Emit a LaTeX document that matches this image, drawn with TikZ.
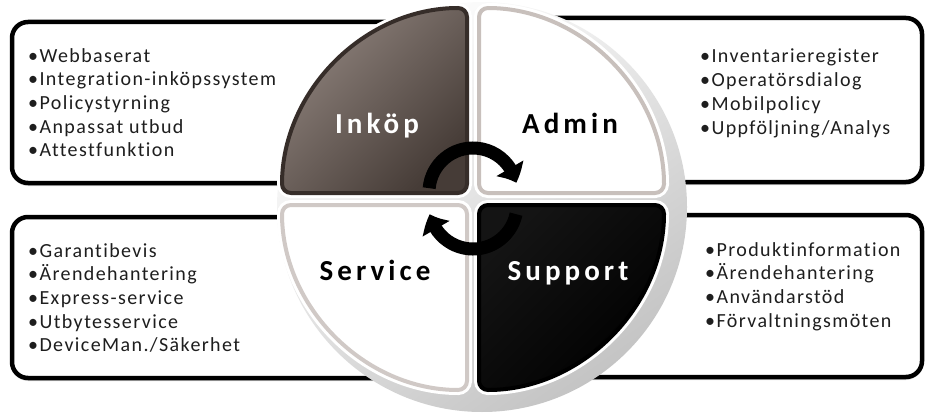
\documentclass[tikz,border=0pt]{standalone}
\usepackage{fontspec}
\setmainfont{Carlito}
\newfontfamily\listfont{Carlito}[LetterSpace=7, Ligatures={NoCommon}]
\newfontfamily\headfont{Carlito}[LetterSpace=14, Ligatures={NoCommon}]
\usetikzlibrary{arrows.meta}
\usetikzlibrary{bending}
\usetikzlibrary{shadows}
\usetikzlibrary{positioning}

\definecolor{inkLight}{HTML}{8E827C}
\definecolor{inkDark}{HTML}{463C37}
\definecolor{inkEdge}{HTML}{362D29}
\definecolor{ringGray}{HTML}{C4C4C4}
\definecolor{rimGray}{HTML}{C8C0BC}
\definecolor{listText}{HTML}{1E1E1E}

\begin{document}
\begin{tikzpicture}[
	x=1pt, y=1pt,
	box/.style = {draw=black, line width=4.5pt, fill=white, rounded corners=16pt,
		drop shadow={opacity=.3, shadow xshift=0pt, shadow yshift=-3pt}},
	quad/.style = {line width=4pt, rounded corners=9pt, preaction={draw=white, line width=10pt}},
	head/.style = {font=\headfont\bfseries\fontsize{29}{30}\selectfont, anchor=base, inner sep=0pt},
	items/.style = {font=\listfont\fontsize{20}{23.7}\selectfont, align=left, anchor=north west,
		inner sep=0pt, text=listText},
	turn/.style = {line width=13pt, -{Triangle[length=16pt,width=30pt,bend]}}
  ]
	\useasboundingbox (0,0) rectangle (925,416);

	% the four text panels
	\draw[box] (12,233) rectangle (440,394);
	\draw[box] (500,234) rectangle (922,398);
	\draw[box] (12,38) rectangle (440,199);
	\draw[box] (500,39) rectangle (922,201);

	% disc with its rim
	\shade[top color=white, bottom color=ringGray, shading angle=35] (482,209) circle[radius=205];

	\draw[quad, draw=inkEdge, top color=inkLight, bottom color=inkDark, shading angle=45]
		(467,223) -- (282,223) arc[start angle=180, end angle=90, radius=185] -- cycle;
	\draw[quad, draw=rimGray, fill=white]
		(479,223) -- (479,408) arc[start angle=90, end angle=0, radius=185] -- cycle;
	\draw[quad, draw=rimGray!85, fill=white]
		(467,211) -- (467,26) arc[start angle=270, end angle=180, radius=185] -- cycle;
	\draw[quad, draw=black, top color=black!92, bottom color=black, shading angle=45]
		(479,211) -- (664,211) arc[start angle=0, end angle=-90, radius=185] -- cycle;

	\node[head, text=white] (inkop) at (377,283) {Inköp};
	\node[head, text=black] (admin) at (570,283) {Admin};
	\node[head, text=black] (service) at (375,136) {Service};
	\node[head, text=white] (support) at (568,136) {Support};

	% turning arrows in the middle
	\coordinate (@top) at (473,224);
	\coordinate (@bot) at (473,211);
	\draw[turn] ([shift={(175:44)}]@top) arc[start angle=175, end angle=12, radius=44];
	\draw[turn] ([shift={(-12:44)}]@bot) arc[start angle=-12, end angle=-168, radius=44];

	\node[items] (inkopList) at (28,368)
		{•Webbaserat\\•Integration-inköpssystem\\•Policystyrning\\•Anpassat utbud\\•Attestfunktion};
	\node[items] (adminList) at (700,367)
		{•Inventarieregister\\•Operatörsdialog\\•Mobilpolicy\\•Uppföljning/Analys};
	\node[items] (serviceList) at (28,173)
		{•Garantibevis\\•Ärendehantering\\•Express-service\\•Utbytesservice\\•DeviceMan./Säkerhet};
	\node[items] (supportList) at (705,174)
		{•Produktinformation\\•Ärendehantering\\•Användarstöd\\•Förvaltningsmöten};

\end{tikzpicture}
\end{document}
